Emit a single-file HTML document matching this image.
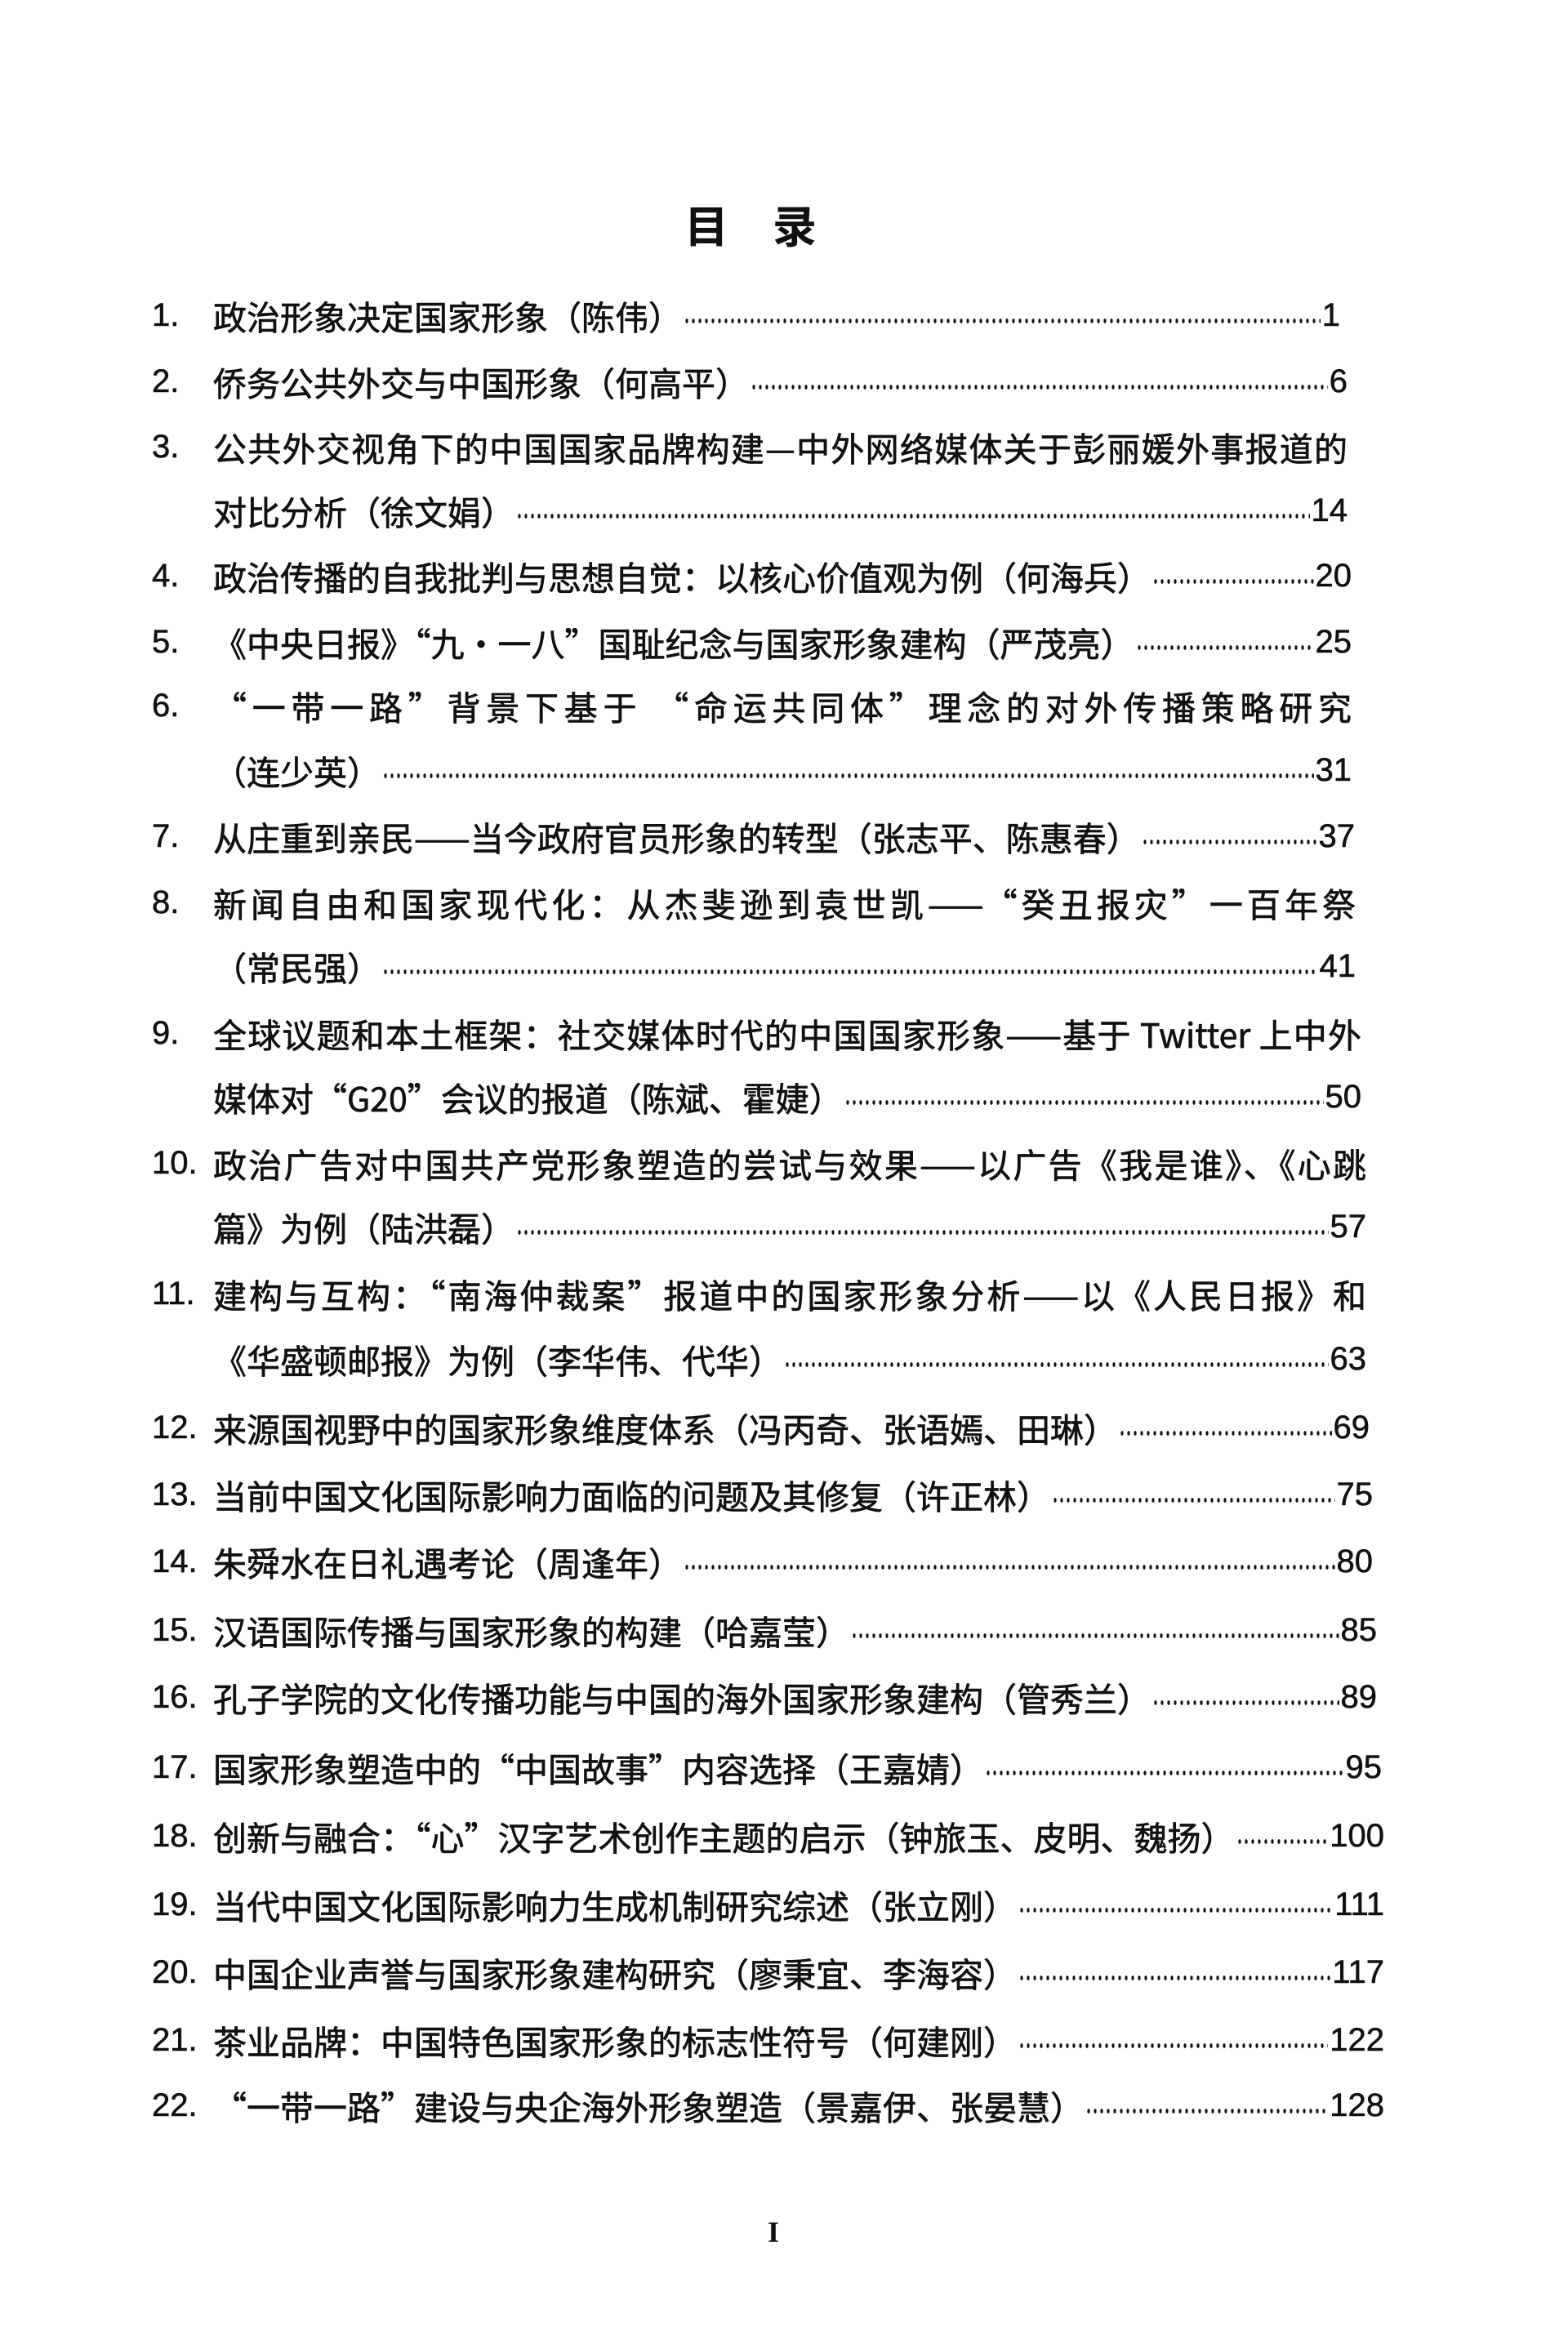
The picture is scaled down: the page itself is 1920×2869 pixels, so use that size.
<!DOCTYPE html>
<html><head><meta charset="utf-8">
<style>
html,body{margin:0;padding:0;background:#fff;}
body{width:1920px;height:2869px;position:relative;overflow:hidden;font-family:"Liberation Sans","Noto Sans CJK SC",sans-serif;color:#111;}
.t{position:absolute;font-family:"Noto Sans CJK SC",sans-serif;font-weight:700;font-size:54px;top:238px;line-height:72px;}
.r{position:absolute;height:56px;line-height:56px;font-size:41px;display:flex;align-items:center;white-space:nowrap;}
.n{position:absolute;left:-75px;font-size:40px;font-family:"Liberation Sans",sans-serif;-webkit-text-stroke:0.6px #111;}
.x{font-family:"Noto Sans CJK SC",sans-serif;-webkit-text-stroke:0.7px #111;}
.d{flex:1;height:56px;margin:0 2px;background-image:radial-gradient(ellipse 1.8px 3px,#111 90%,transparent 100%);background-size:8px 10px;background-repeat:repeat-x;background-position:0 30px;}
.p{font-family:"Liberation Sans",sans-serif;font-size:40px;-webkit-text-stroke:0.6px #111;}
.j{text-align:justify;text-align-last:justify;display:block;}
.pg{position:absolute;left:940px;top:2712px;font-family:"Liberation Serif",serif;font-weight:700;font-size:36px;}
</style></head><body>
<div class="t" style="left:838px">目</div>
<div class="t" style="left:946px">录</div>

<div class="r" style="left:261px;top:358px;width:1380px"><span class="n">1.</span><span class="x">政治形象决定国家形象（陈伟）</span><span class="d"></span><span class="p">1</span></div>
<div class="r" style="left:261px;top:439px;width:1389px"><span class="n">2.</span><span class="x">侨务公共外交与中国形象（何高平）</span><span class="d"></span><span class="p">6</span></div>
<div class="r j" style="left:261px;top:519px;width:1389px"><span class="n">3.</span><span class="x">公共外交视角下的中国国家品牌构建—中外网络媒体关于彭丽媛外事报道的</span></div>
<div class="r" style="left:261px;top:597px;width:1389px"><span class="x">对比分析（徐文娟）</span><span class="d"></span><span class="p">14</span></div>
<div class="r" style="left:261px;top:677px;width:1394px"><span class="n">4.</span><span class="x">政治传播的自我批判与思想自觉：以核心价值观为例（何海兵）</span><span class="d"></span><span class="p">20</span></div>
<div class="r" style="left:261px;top:758px;width:1394px"><span class="n">5.</span><span class="x">《中央日报》“九・一八”国耻纪念与国家形象建构（严茂亮）</span><span class="d"></span><span class="p">25</span></div>
<div class="r j" style="left:261px;top:836px;width:1394px"><span class="n">6.</span><span class="x">“一带一路”背景下基于 “命运共同体”理念的对外传播策略研究</span></div>
<div class="r" style="left:261px;top:915px;width:1394px"><span class="x">（连少英）</span><span class="d"></span><span class="p">31</span></div>
<div class="r" style="left:261px;top:996px;width:1398px"><span class="n">7.</span><span class="x">从庄重到亲民——当今政府官员形象的转型（张志平、陈惠春）</span><span class="d"></span><span class="p">37</span></div>
<div class="r j" style="left:261px;top:1077px;width:1399px"><span class="n">8.</span><span class="x">新闻自由和国家现代化：从杰斐逊到袁世凯——“癸丑报灾”一百年祭</span></div>
<div class="r" style="left:261px;top:1155px;width:1399px"><span class="x">（常民强）</span><span class="d"></span><span class="p">41</span></div>
<div class="r j" style="left:261px;top:1237px;width:1406px"><span class="n">9.</span><span class="x">全球议题和本土框架：社交媒体时代的中国国家形象——基于 Twitter 上中外</span></div>
<div class="r" style="left:261px;top:1315px;width:1406px"><span class="x">媒体对“G20”会议的报道（陈斌、霍婕）</span><span class="d"></span><span class="p">50</span></div>
<div class="r j" style="left:261px;top:1396px;width:1412px"><span class="n">10.</span><span class="x">政治广告对中国共产党形象塑造的尝试与效果——以广告《我是谁》、《心跳</span></div>
<div class="r" style="left:261px;top:1474px;width:1412px"><span class="x">篇》为例（陆洪磊）</span><span class="d"></span><span class="p">57</span></div>
<div class="r j" style="left:261px;top:1556px;width:1412px"><span class="n">11.</span><span class="x">建构与互构：“南海仲裁案”报道中的国家形象分析——以《人民日报》和</span></div>
<div class="r" style="left:261px;top:1636px;width:1412px"><span class="x">《华盛顿邮报》为例（李华伟、代华）</span><span class="d"></span><span class="p">63</span></div>
<div class="r" style="left:261px;top:1720px;width:1416px"><span class="n">12.</span><span class="x">来源国视野中的国家形象维度体系（冯丙奇、张语嫣、田琳）</span><span class="d"></span><span class="p">69</span></div>
<div class="r" style="left:261px;top:1802px;width:1420px"><span class="n">13.</span><span class="x">当前中国文化国际影响力面临的问题及其修复（许正林）</span><span class="d"></span><span class="p">75</span></div>
<div class="r" style="left:261px;top:1884px;width:1420px"><span class="n">14.</span><span class="x">朱舜水在日礼遇考论（周逢年）</span><span class="d"></span><span class="p">80</span></div>
<div class="r" style="left:261px;top:1968px;width:1425px"><span class="n">15.</span><span class="x">汉语国际传播与国家形象的构建（哈嘉莹）</span><span class="d"></span><span class="p">85</span></div>
<div class="r" style="left:261px;top:2050px;width:1425px"><span class="n">16.</span><span class="x">孔子学院的文化传播功能与中国的海外国家形象建构（管秀兰）</span><span class="d"></span><span class="p">89</span></div>
<div class="r" style="left:261px;top:2136px;width:1431px"><span class="n">17.</span><span class="x">国家形象塑造中的“中国故事”内容选择（王嘉婧）</span><span class="d"></span><span class="p">95</span></div>
<div class="r" style="left:261px;top:2220px;width:1434px"><span class="n">18.</span><span class="x">创新与融合：“心”汉字艺术创作主题的启示（钟旅玉、皮明、魏扬）</span><span class="d"></span><span class="p">100</span></div>
<div class="r" style="left:261px;top:2304px;width:1434px"><span class="n">19.</span><span class="x">当代中国文化国际影响力生成机制研究综述（张立刚）</span><span class="d"></span><span class="p">111</span></div>
<div class="r" style="left:261px;top:2387px;width:1434px"><span class="n">20.</span><span class="x">中国企业声誉与国家形象建构研究（廖秉宜、李海容）</span><span class="d"></span><span class="p">117</span></div>
<div class="r" style="left:261px;top:2470px;width:1434px"><span class="n">21.</span><span class="x">茶业品牌：中国特色国家形象的标志性符号（何建刚）</span><span class="d"></span><span class="p">122</span></div>
<div class="r" style="left:261px;top:2550px;width:1434px"><span class="n">22.</span><span class="x">“一带一路”建设与央企海外形象塑造（景嘉伊、张晏慧）</span><span class="d"></span><span class="p">128</span></div>

<div class="pg">I</div>
</body></html>
